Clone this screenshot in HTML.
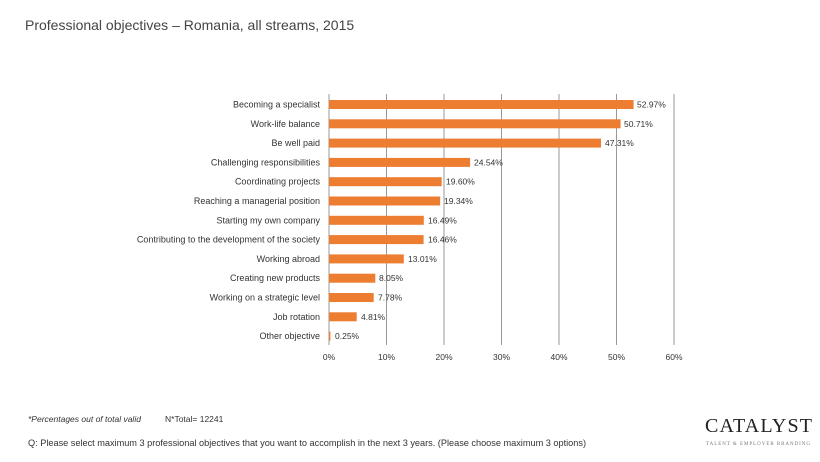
<!DOCTYPE html>
<html><head><meta charset="utf-8"><style>
body{margin:0;background:#fff;width:820px;height:457px;overflow:hidden;font-family:"Liberation Sans",sans-serif}
</style></head><body>
<svg width="820" height="457" xmlns="http://www.w3.org/2000/svg" font-family="Liberation Sans, sans-serif">
<text x="25" y="30" font-size="14" fill="#444">Professional objectives – Romania, all streams, 2015</text>
<g stroke="#999" stroke-width="1">
<line x1="329" y1="94" x2="329" y2="345"/>
<line x1="386.5" y1="94" x2="386.5" y2="345"/>
<line x1="444" y1="94" x2="444" y2="345"/>
<line x1="501.5" y1="94" x2="501.5" y2="345"/>
<line x1="559" y1="94" x2="559" y2="345"/>
<line x1="616.5" y1="94" x2="616.5" y2="345"/>
<line x1="674" y1="94" x2="674" y2="345"/>
</g>
<g font-size="8.5" fill="#333" text-anchor="middle">
<text x="329" y="360">0%</text><text x="386.5" y="360">10%</text><text x="444" y="360">20%</text><text x="501.5" y="360">30%</text><text x="559" y="360">40%</text><text x="616.5" y="360">50%</text><text x="674" y="360">60%</text>
</g>
<g fill="#ED7D31">
<rect x="329" y="100" width="304.6" height="9"/>
<rect x="329" y="119.3" width="291.6" height="9"/>
<rect x="329" y="138.6" width="272" height="9"/>
<rect x="329" y="157.9" width="141.1" height="9"/>
<rect x="329" y="177.2" width="112.7" height="9"/>
<rect x="329" y="196.5" width="111.2" height="9"/>
<rect x="329" y="215.8" width="94.8" height="9"/>
<rect x="329" y="235.1" width="94.6" height="9"/>
<rect x="329" y="254.4" width="74.8" height="9"/>
<rect x="329" y="273.7" width="46.3" height="9"/>
<rect x="329" y="293" width="44.7" height="9"/>
<rect x="329" y="312.3" width="27.7" height="9"/>
<rect x="329" y="331.6" width="1.4" height="9"/>
</g>
<g font-size="9" fill="#333" text-anchor="end">
<text x="320" y="107.5">Becoming a specialist</text>
<text x="320" y="126.8">Work-life balance</text>
<text x="320" y="146.1">Be well paid</text>
<text x="320" y="165.4">Challenging responsibilities</text>
<text x="320" y="184.7">Coordinating projects</text>
<text x="320" y="204">Reaching a managerial position</text>
<text x="320" y="223.3">Starting my own company</text>
<text x="320" y="242.6">Contributing to the development of the society</text>
<text x="320" y="261.9">Working abroad</text>
<text x="320" y="281.2">Creating new products</text>
<text x="320" y="300.5">Working on a strategic level</text>
<text x="320" y="319.8">Job rotation</text>
<text x="320" y="339.1">Other objective</text>
</g>
<g font-size="8.5" fill="#333">
<text x="637" y="107.5">52.97%</text>
<text x="624" y="126.8">50.71%</text>
<text x="605" y="146.1">47.31%</text>
<text x="474" y="165.4">24.54%</text>
<text x="446" y="184.7">19.60%</text>
<text x="444" y="204">19.34%</text>
<text x="428" y="223.3">16.49%</text>
<text x="428" y="242.6">16.46%</text>
<text x="408" y="261.9">13.01%</text>
<text x="379" y="281.2">8.05%</text>
<text x="378" y="300.5">7.78%</text>
<text x="361" y="319.8">4.81%</text>
<text x="335" y="339.1">0.25%</text>
</g>
<text x="28" y="422" font-size="8.5" font-style="italic" fill="#333">*Percentages out of total valid</text>
<text x="165" y="422" font-size="8.5" fill="#333">N*Total= 12241</text>
<text x="28" y="446" font-size="9.2" fill="#333" textLength="558">Q: Please select maximum 3 professional objectives that you want to accomplish in the next 3 years. (Please choose maximum 3 options)</text>
<text x="705" y="432" font-size="20" font-family="Liberation Serif, serif" fill="#222" textLength="107">CATALYST</text>
<text x="706" y="445" font-size="5" font-family="Liberation Serif, serif" fill="#777" textLength="104">TALENT &amp; EMPLOYER BRANDING</text>
</svg>
</body></html>
